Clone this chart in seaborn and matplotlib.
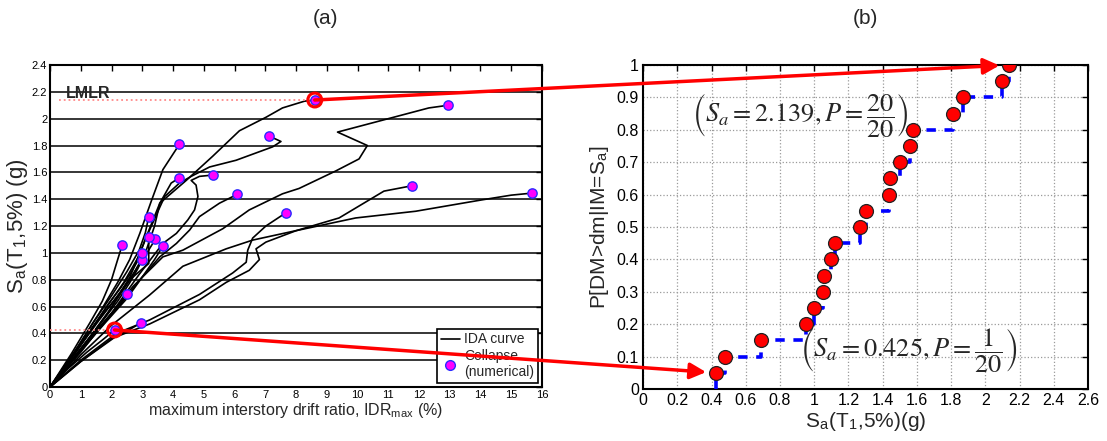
import matplotlib
matplotlib.use("Agg")
import numpy as np
import pandas as pd
import matplotlib.pyplot as plt
import seaborn as sns
from matplotlib.lines import Line2D
from matplotlib.patches import ConnectionPatch

# ---------------- data ----------------
# IDA curves (IDR max in %, Sa in g), each ends at its collapse point
ida_01_idr = [0, 0.6, 1.2, 1.7, 2.10]
ida_01_sa = [0, 0.14, 0.26, 0.35, 0.425]
ida_02_idr = [0, 1.0, 2.0, 2.6, 2.97]
ida_02_sa = [0, 0.19, 0.36, 0.43, 0.48]
ida_03_idr = [0, 0.8, 1.5, 2.0, 2.3, 2.49]
ida_03_sa = [0, 0.22, 0.42, 0.55, 0.62, 0.69]
ida_04_idr = [0, 0.9, 1.6, 2.2, 2.6, 2.85, 2.99]
ida_04_sa = [0, 0.26, 0.46, 0.64, 0.78, 0.88, 0.95]
ida_05_idr = [0, 0.8, 1.4, 1.9, 2.3, 2.6, 2.8, 3.0]
ida_05_sa = [0, 0.25, 0.45, 0.62, 0.74, 0.84, 0.92, 1.0]
ida_06_idr = [0, 1.0, 1.8, 2.5, 3.0, 3.4, 3.67]
ida_06_sa = [0, 0.27, 0.48, 0.66, 0.82, 0.95, 1.05]
ida_07_idr = [0, 0.7, 1.3, 1.7, 2.0, 2.2, 2.35]
ida_07_sa = [0, 0.25, 0.48, 0.64, 0.80, 0.95, 1.06]
ida_08_idr = [0, 0.9, 1.6, 2.2, 2.7, 3.1, 3.42]
ida_08_sa = [0, 0.28, 0.50, 0.68, 0.84, 0.98, 1.10]
ida_09_idr = [0, 0.8, 1.5, 2.1, 2.6, 3.0, 3.21, 3.21]
ida_09_sa = [0, 0.26, 0.48, 0.65, 0.80, 0.88, 0.92, 1.12]
ida_10_idr = [0, 0.8, 1.4, 2.0, 2.5, 2.9, 3.1, 3.21]
ida_10_sa = [0, 0.26, 0.48, 0.68, 0.86, 1.02, 1.15, 1.27]
ida_11_idr = [0, 1.0, 2.16, 3.24, 4.86, 5.94, 6.38, 6.43, 6.59, 7.02, 7.68]
ida_11_sa = [0, 0.20, 0.40, 0.50, 0.69, 0.85, 0.93, 1.02, 1.11, 1.20, 1.30]
ida_12_idr = [0, 1.1, 2.3, 3.0, 3.57, 4.11, 4.54, 4.86, 5.51, 6.08]
ida_12_sa = [0, 0.30, 0.62, 0.82, 0.97, 1.07, 1.17, 1.27, 1.37, 1.435]
ida_13_idr = [0, 1.0, 2.0, 3.24, 4.32, 5.73, 6.59, 7.89, 9.94, 11.89, 14.05, 15.0, 15.66]
ida_13_sa = [0, 0.24, 0.46, 0.686, 0.90, 1.03, 1.095, 1.16, 1.26, 1.31, 1.395, 1.43, 1.445]
ida_14_idr = [0, 1.0, 2.1, 3.24, 4.86, 5.73, 6.48, 6.81, 6.70, 7.02, 8.0, 9.40, 10.86, 11.77]
ida_14_sa = [0, 0.19, 0.37, 0.47, 0.65, 0.78, 0.87, 0.95, 1.03, 1.08, 1.165, 1.26, 1.46, 1.50]
ida_15_idr = [0, 1.0, 1.9, 2.6, 3.1, 3.4, 3.57, 3.94, 4.21]
ida_15_sa = [0, 0.28, 0.56, 0.80, 1.0, 1.2, 1.37, 1.52, 1.56]
ida_16_idr = [0, 1.0, 2.0, 2.9, 3.67, 4.11, 4.48, 4.70, 4.81, 4.75, 4.59, 4.86, 5.30]
ida_16_sa = [0, 0.26, 0.55, 0.84, 1.07, 1.145, 1.245, 1.32, 1.42, 1.505, 1.54, 1.57, 1.58]
ida_17_idr = [0, 0.9, 1.6, 2.2, 2.59, 2.92, 3.30, 3.67, 4.21]
ida_17_sa = [0, 0.30, 0.55, 0.78, 0.95, 1.145, 1.39, 1.62, 1.81]
ida_18_idr = [0, 1.0, 1.9, 2.6, 3.1, 3.57, 3.73, 4.21, 4.59, 5.19, 6.05, 7.24, 7.51, 7.13]
ida_18_sa = [0, 0.28, 0.56, 0.82, 1.10, 1.34, 1.42, 1.52, 1.57, 1.64, 1.69, 1.79, 1.83, 1.87]
ida_19_idr = [0, 1.0, 1.9, 2.7, 3.67, 4.32, 5.62, 6.48, 7.56, 8.10, 9.29, 10.05, 10.32, 9.35, 12.32, 12.95]
ida_19_sa = [0, 0.27, 0.52, 0.75, 0.97, 1.02, 1.18, 1.32, 1.44, 1.48, 1.61, 1.70, 1.80, 1.90, 2.08, 2.10]
ida_20_idr = [0, 0.9, 1.7, 2.4, 2.9, 3.13, 3.57, 4.43, 5.29, 6.16, 7.02, 7.56, 8.27, 8.61]
ida_20_sa = [0, 0.28, 0.55, 0.78, 0.98, 1.12, 1.37, 1.54, 1.72, 1.91, 2.01, 2.08, 2.13, 2.139]

# collapse points (numerical)
collapse_idr = [2.10, 2.97, 2.49, 2.99, 3.0, 3.67, 2.35, 3.42, 3.21, 3.21,
                7.68, 6.08, 15.66, 11.77, 4.21, 5.30, 4.21, 7.13, 12.95, 8.61]
collapse_sa = [0.425, 0.48, 0.69, 0.95, 1.0, 1.05, 1.06, 1.10, 1.12, 1.27,
               1.30, 1.435, 1.445, 1.50, 1.56, 1.58, 1.81, 1.87, 2.10, 2.139]

# highlighted points (min and max collapse Sa)
lmlr_sa = 2.139
first_sa = 0.425

left_xticks = list(range(0, 17))
left_yticks = [0, 0.2, 0.4, 0.6, 0.8, 1.0, 1.2, 1.4, 1.6, 1.8, 2.0, 2.2, 2.4]
right_xticks = [0, 0.2, 0.4, 0.6, 0.8, 1.0, 1.2, 1.4, 1.6, 1.8, 2.0, 2.2, 2.4, 2.6]
right_yticks = [0, 0.1, 0.2, 0.3, 0.4, 0.5, 0.6, 0.7, 0.8, 0.9, 1.0]

# ---------------- style ----------------
sns.set_theme(style="white")
plt.rcParams["font.family"] = ["Liberation Sans", "DejaVu Sans"]
plt.rcParams["mathtext.fontset"] = "stix"

fig = plt.figure(figsize=(11.07, 4.41), dpi=100)
ax1 = fig.add_axes([0.0452, 0.1224, 0.4444, 0.7302])
ax2 = fig.add_axes([0.5809, 0.1179, 0.402, 0.7347])

# ---------------- left panel ----------------
curves = [(ida_01_idr, ida_01_sa), (ida_02_idr, ida_02_sa), (ida_03_idr, ida_03_sa),
          (ida_04_idr, ida_04_sa), (ida_05_idr, ida_05_sa), (ida_06_idr, ida_06_sa),
          (ida_07_idr, ida_07_sa), (ida_08_idr, ida_08_sa), (ida_09_idr, ida_09_sa),
          (ida_10_idr, ida_10_sa), (ida_11_idr, ida_11_sa), (ida_12_idr, ida_12_sa),
          (ida_13_idr, ida_13_sa), (ida_14_idr, ida_14_sa), (ida_15_idr, ida_15_sa),
          (ida_16_idr, ida_16_sa), (ida_17_idr, ida_17_sa), (ida_18_idr, ida_18_sa),
          (ida_19_idr, ida_19_sa), (ida_20_idr, ida_20_sa)]
rows = []
for k, (xs, ys) in enumerate(curves):
    for x, y in zip(xs, ys):
        rows.append({"curve": k, "idr": x, "sa": y})
ida_df = pd.DataFrame(rows)

ax1.set_axisbelow(True)
ax1.grid(axis="y", color="black", lw=1.1)
ax1.grid(axis="x", visible=False)

sns.lineplot(data=ida_df, x="idr", y="sa", units="curve", estimator=None, sort=False,
             color="black", lw=1.2, ax=ax1, legend=False)

ax1.hlines(lmlr_sa, 0.3, 8.61, colors="#ff8a8a", linestyles=":", lw=1.3, zorder=3)
ax1.hlines(first_sa, 0.0, 2.10, colors="#ff8a8a", linestyles=":", lw=1.3, zorder=3)

sns.scatterplot(x=collapse_idr, y=collapse_sa, color="#ff00ff", edgecolor="#2a2aff",
                s=45, linewidth=1.0, ax=ax1, zorder=5)
ax1.scatter([2.10, 8.61], [first_sa, lmlr_sa], s=100, facecolors="none",
            edgecolors="red", linewidths=2.2, zorder=6)

ax1.text(0.5, 2.19, "LMLR", fontsize=11.5, fontweight="bold", va="center", ha="left")

ax1.set_xlim(0, 16)
ax1.set_ylim(0, 2.4)
ax1.set_xticks(left_xticks)
ax1.set_xticklabels([f"{v:g}" for v in left_xticks])
ax1.set_yticks(left_yticks)
ax1.set_yticklabels([f"{v:g}" for v in left_yticks])
ax1.tick_params(direction="in", top=True, right=True, labelsize=8, length=4,
                width=1, pad=2, colors="black")
for sp in ax1.spines.values():
    sp.set_color("black")
    sp.set_linewidth(1.5)
ax1.set_xlabel("maximum interstory drift ratio, IDR$_{\\mathregular{max}}$ (%)",
               fontsize=11.5, labelpad=1)
ax1.set_ylabel("S$_{\\mathregular{a}}$(T$_{\\mathregular{1}}$,5%) (g)", fontsize=16, labelpad=1)

handles = [Line2D([], [], color="black", lw=1.2),
           Line2D([], [], marker="o", ls="none", mfc="#ff00ff", mec="#2a2aff", ms=7)]
leg = ax1.legend(handles, ["IDA curve", "Collapse\n(numerical)"], loc="lower right",
                 fontsize=10, frameon=True, fancybox=False, framealpha=1,
                 edgecolor="black", borderaxespad=0.3, handlelength=1.4,
                 handletextpad=0.3, borderpad=0.25, labelspacing=0.2)
leg.get_frame().set_linewidth(1.2)

# ---------------- right panel ----------------
frag_sa = sorted(collapse_sa)
frag_p = [(i + 1) / len(frag_sa) for i in range(len(frag_sa))]
step_x = [frag_sa[0]] + frag_sa
step_y = [0.0] + frag_p

ax2.set_axisbelow(True)
ax2.grid(True, ls=":", color="#9a9a9a", lw=0.9)
sns.lineplot(x=step_x, y=step_y, estimator=None, sort=False, drawstyle="steps-post",
             color="#0000ff", lw=2.6, linestyle=(0, (2.6, 2.4)), ax=ax2, zorder=3)
sns.scatterplot(x=frag_sa, y=frag_p, color="#ff0000", edgecolor="#222222", s=100,
                linewidth=0.9, ax=ax2, zorder=5)

ax2.set_xlim(0, 2.6)
ax2.set_ylim(0, 1)
ax2.set_xticks(right_xticks)
ax2.set_xticklabels([f"{v:g}" for v in right_xticks])
ax2.set_yticks(right_yticks)
ax2.set_yticklabels([f"{v:g}" for v in right_yticks])
ax2.tick_params(direction="in", top=True, right=True, labelsize=11.5, length=4,
                width=1, pad=3, colors="black")
for sp in ax2.spines.values():
    sp.set_color("black")
    sp.set_linewidth(1.5)
ax2.set_xlabel("S$_{\\mathregular{a}}$(T$_{\\mathregular{1}}$,5%)(g)", fontsize=15, labelpad=1)
ax2.set_ylabel("P[DM>dm|IM=S$_{\\mathregular{a}}$]", fontsize=15, labelpad=4)

ax2.text(0.92, 0.845, r"$\left(S_a=2.139, P=\dfrac{20}{20}\right)$", fontsize=19,
         ha="center", va="center", zorder=6)
ax2.text(1.55, 0.12, r"$\left(S_a=0.425, P=\dfrac{1}{20}\right)$", fontsize=19,
         ha="center", va="center", zorder=6)

# ---------------- titles & arrows ----------------
fig.text(325 / 1107, 1 - 18 / 441, "(a)", ha="center", va="center", fontsize=15)
fig.text(865 / 1107, 1 - 18 / 441, "(b)", ha="center", va="center", fontsize=15)

for (xa, ya), (xb, yb) in [((2.10, first_sa), (frag_sa[0], frag_p[0])),
                           ((8.61, lmlr_sa), (frag_sa[-1], frag_p[-1]))]:
    con = ConnectionPatch(xyA=(xa, ya), coordsA=ax1.transData,
                          xyB=(xb, yb), coordsB=ax2.transData,
                          arrowstyle="-|>", color="red", lw=2.5,
                          mutation_scale=24, shrinkA=0, shrinkB=7, zorder=10)
    fig.add_artist(con)

fig.savefig("out.png", dpi=100)
